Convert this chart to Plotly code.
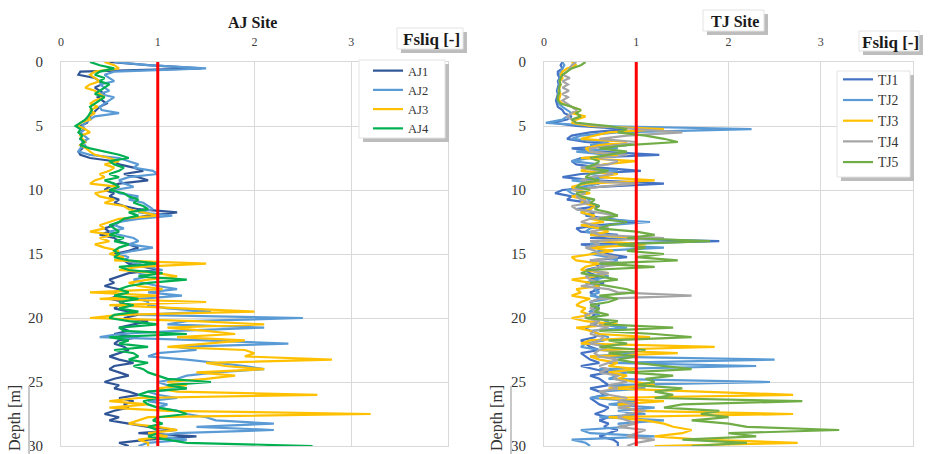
import numpy as np
import plotly.graph_objects as go

# depth sampling (m)
depth = list(np.round(np.arange(0, 30.001, 0.25), 2))

AJ1 = [0.5, 0.9, 1.45, 0.2, 0.18, 0.35, 0.4, 0.42, 0.35, 0.4, 0.45, 0.38, 0.42, 0.47, 0.4, 0.36,
       0.33, 0.3, 0.28, 0.27, 0.2, 0.24, 0.2, 0.22, 0.2, 0.25, 0.2, 0.22, 0.18, 0.2, 0.3, 0.55,
       0.6, 0.75, 0.85, 0.65, 0.8, 0.9, 0.6, 0.5, 0.45, 0.55, 0.5, 0.6, 0.55, 0.65, 0.8, 1.2,
       0.9, 0.7, 0.6, 0.55, 0.45, 0.5, 0.4, 0.55, 0.6, 0.7, 0.8, 0.7, 0.55, 0.6, 0.65, 0.7,
       0.85, 1.0, 0.7, 0.6, 0.5, 0.55, 0.45, 0.6, 0.55, 0.6, 0.5, 0.65, 0.6, 0.55, 0.7, 0.8,
       0.65, 0.9, 0.75, 0.6, 0.7, 0.55, 0.8, 0.6, 0.55, 0.65, 0.7, 0.6, 0.5, 0.6, 0.75, 0.55,
       0.5, 0.6, 0.7, 0.55, 0.45, 0.6, 0.55, 0.7, 0.8, 0.6, 0.75, 0.65, 0.7, 0.55, 0.45, 0.6,
       0.5, 0.7, 0.9, 1.2, 0.8, 1.4, 0.9, 0.6, 0.7]
AJ2 = [0.55, 0.9, 1.5, 0.55, 0.45, 0.5, 0.55, 0.4, 0.45, 0.5, 0.4, 0.55, 0.5, 0.45, 0.4, 0.42,
       0.6, 0.35, 0.3, 0.25, 0.22, 0.25, 0.2, 0.24, 0.28, 0.22, 0.25, 0.2, 0.18, 0.3, 0.6, 0.7,
       0.8, 0.75, 0.95, 1.0, 0.7, 0.6, 0.65, 0.75, 0.55, 0.6, 0.8, 0.7, 0.85, 0.9, 0.95, 0.8,
       1.15, 0.8, 0.6, 0.55, 0.65, 0.5, 0.6, 0.75, 0.8, 0.7, 0.95, 0.75, 0.6, 0.7, 0.65, 0.8,
       0.9, 1.05, 0.8, 0.9, 0.75, 0.85, 1.0, 1.2, 0.9, 1.25, 0.8, 0.9, 0.9, 1.1, 1.55, 0.8,
       2.5, 1.3, 1.1, 2.1, 1.2, 0.6, 0.4, 1.5, 2.35, 1.2, 1.4, 1.0, 0.9, 1.3, 1.6, 1.9,
       2.1, 1.6, 1.3, 1.2, 1.0, 1.1, 1.3, 0.9, 1.0, 1.2, 0.9, 1.1, 1.0, 1.2, 1.3, 1.5,
       1.6, 2.2, 1.4, 2.2, 1.2, 1.0, 1.3, 0.9, 0.8]
AJ3 = [0.45, 0.55, 0.6, 0.35, 0.3, 0.35, 0.4, 0.3, 0.25, 0.35, 0.4, 0.45, 0.35, 0.3, 0.38, 0.3,
       0.35, 0.28, 0.3, 0.2, 0.18, 0.25, 0.3, 0.2, 0.22, 0.25, 0.2, 0.26, 0.3, 0.35, 0.5, 0.6,
       0.45, 0.55, 0.5, 0.4, 0.45, 0.35, 0.3, 0.6, 0.5, 0.35, 0.4, 0.55, 0.45, 0.65, 0.7, 0.85,
       1.0, 0.6, 0.5, 0.4, 0.45, 0.3, 0.55, 0.4, 0.5, 0.35, 0.45, 0.6, 0.5, 0.65, 0.55, 1.5,
       0.8, 0.6, 1.0, 1.2, 0.9, 0.7, 0.8, 1.05, 0.3, 1.0, 0.4, 1.5, 0.5, 1.3, 2.0, 0.6,
       0.3, 1.4, 2.1, 1.1, 1.5, 1.8, 1.2, 1.9, 1.5, 1.1, 1.9, 2.0, 1.9, 2.8, 1.5, 1.7,
       2.1, 1.4, 1.8, 1.5, 1.1, 1.3, 1.0, 1.2, 2.65, 0.8, 0.5, 0.9, 0.5, 1.1, 3.2, 0.9,
       0.8, 0.7, 1.0, 1.2, 0.9, 1.1, 0.8, 0.9, 0.9]
AJ4 = [0.3, 0.4, 0.55, 0.4, 0.35, 0.45, 0.4, 0.5, 0.45, 0.4, 0.35, 0.45, 0.4, 0.35, 0.3, 0.32,
       0.3, 0.28, 0.25, 0.2, 0.15, 0.2, 0.18, 0.22, 0.2, 0.24, 0.2, 0.3, 0.45, 0.6, 0.7, 0.5,
       0.55, 0.65, 0.6, 0.5, 0.6, 0.45, 0.55, 0.6, 0.5, 0.65, 0.7, 0.8, 0.75, 0.85, 0.9, 0.7,
       0.8, 0.65, 0.6, 0.5, 0.55, 0.6, 0.5, 0.65, 0.55, 0.7, 0.6, 0.55, 0.6, 0.55, 0.7, 1.0,
       0.6, 0.7, 1.05, 0.8, 1.3, 0.9, 0.7, 0.6, 0.7, 0.55, 0.8, 0.6, 0.75, 0.6, 0.8, 0.55,
       0.5, 0.7, 1.0, 0.6, 0.65, 1.3, 0.5, 0.7, 0.6, 0.9, 0.55, 0.75, 0.8, 0.7, 0.9, 0.75,
       0.85, 0.9, 1.0, 1.1, 1.55, 1.1, 1.3, 0.9, 0.8, 1.0, 0.85, 0.9, 1.0, 1.2, 1.3, 1.0,
       0.95, 1.05, 0.9, 1.0, 1.0, 0.9, 1.1, 1.3, 2.6]

TJ1 = [0.2, 0.18, 0.2, 0.15, 0.15, 0.17, 0.15, 0.16, 0.15, 0.14, 0.15, 0.14, 0.13, 0.14, 0.15, 0.2,
       0.22, 0.3, 0.25, 0.1, 0.35, 0.9, 0.5, 0.3, 0.25, 0.45, 0.9, 0.3, 0.6, 1.25, 0.4, 0.3,
       0.35, 0.6, 1.05, 0.4, 0.2, 0.55, 1.3, 0.6, 0.2, 0.12, 0.3, 0.25, 0.5, 0.6, 0.35, 0.55,
       0.45, 0.7, 1.0, 0.6, 0.35, 0.4, 0.8, 0.5, 1.9, 0.4, 0.6, 0.6, 0.7, 0.9, 0.5, 0.55,
       0.6, 0.45, 0.5, 0.6, 0.5, 0.65, 0.55, 0.6, 0.5, 0.55, 0.6, 0.5, 0.6, 0.55, 0.5, 0.55,
       0.5, 0.6, 0.55, 0.45, 0.5, 0.6, 0.55, 0.4, 0.45, 0.5, 0.6, 0.4, 0.45, 0.5, 0.6, 0.4,
       0.55, 0.7, 0.5, 0.6, 0.65, 0.7, 0.5, 0.6, 0.65, 0.5, 0.55, 0.6, 0.7, 0.65, 0.55, 0.7,
       0.6, 0.7, 0.65, 0.8, 0.7, 0.6, 0.75, 0.8, 0.8]
TJ2 = [0.2, 0.22, 0.2, 0.18, 0.17, 0.18, 0.16, 0.17, 0.16, 0.15, 0.16, 0.15, 0.15, 0.16, 0.2, 0.25,
       0.3, 0.25, 0.2, 0.02, 0.6, 2.25, 0.8, 0.4, 0.3, 0.7, 0.5, 0.8, 0.35, 0.7, 0.5, 0.3,
       0.6, 0.4, 0.8, 0.5, 0.7, 0.3, 0.6, 0.4, 0.25, 0.3, 0.4, 0.5, 0.45, 0.55, 0.5, 0.4,
       0.5, 0.55, 1.15, 0.7, 0.5, 0.45, 0.7, 1.0, 0.6, 0.5, 1.3, 0.6, 0.5, 0.7, 0.8, 0.6,
       0.65, 0.5, 0.6, 0.7, 0.55, 0.45, 0.6, 0.55, 0.6, 0.5, 0.7, 0.5, 0.55, 0.6, 0.5, 0.6,
       0.55, 0.7, 0.6, 0.9, 0.5, 0.6, 0.7, 0.65, 0.45, 0.4, 0.6, 1.0, 0.5, 2.5, 0.7, 2.3,
       0.6, 0.9, 0.8, 0.7, 2.45, 0.7, 1.1, 0.6, 0.7, 0.5, 1.0, 0.7, 1.2, 0.8, 1.1, 0.6,
       1.3, 0.8, 0.9, 0.4, 0.5, 1.2, 0.3, 0.45, 0.5]
TJ3 = [0.3, 0.35, 0.25, 0.2, 0.18, 0.2, 0.17, 0.18, 0.17, 0.16, 0.18, 0.17, 0.16, 0.2, 0.3, 0.4,
       0.3, 0.45, 0.35, 0.3, 0.5, 1.3, 0.7, 0.55, 0.4, 0.9, 0.6, 0.45, 0.5, 0.8, 0.4, 1.0,
       0.65, 0.5, 0.4, 0.8, 0.6, 1.2, 0.45, 0.3, 0.35, 0.5, 0.3, 0.45, 0.4, 0.55, 0.5, 0.4,
       0.55, 0.5, 0.65, 0.4, 0.6, 0.7, 0.5, 1.0, 0.6, 1.1, 0.5, 0.75, 0.5, 0.3, 0.35, 0.6,
       0.45, 0.4, 0.7, 0.55, 0.3, 0.5, 0.6, 0.35, 0.4, 0.3, 0.5, 0.4, 0.35, 0.45, 0.4, 0.5,
       0.3, 0.45, 0.8, 0.35, 0.5, 0.6, 1.15, 0.5, 0.4, 1.85, 0.6, 1.45, 0.5, 0.6, 0.8, 0.7,
       1.0, 0.7, 0.9, 0.8, 1.0, 1.2, 0.7, 1.6, 2.7, 0.6, 1.3, 0.8, 0.9, 1.0, 2.7, 0.7,
       1.1, 1.3, 1.4, 1.6, 1.5, 1.2, 1.7, 2.75, 1.2]
TJ4 = [0.35, 0.3, 0.28, 0.25, 0.2, 0.28, 0.2, 0.26, 0.2, 0.27, 0.2, 0.26, 0.2, 0.25, 0.3, 0.35,
       0.3, 0.25, 0.3, 0.35, 0.6, 1.0, 1.5, 0.9, 0.6, 1.0, 0.8, 0.5, 0.5, 0.9, 0.6, 0.8,
       0.7, 0.4, 0.6, 0.75, 0.5, 0.4, 1.0, 0.6, 0.3, 0.45, 0.35, 0.4, 0.5, 0.3, 0.35, 0.6,
       0.8, 0.5, 0.4, 0.55, 0.7, 0.5, 0.6, 1.3, 0.5, 0.6, 0.45, 0.55, 0.6, 0.8, 0.5, 0.9,
       0.6, 0.5, 0.7, 0.45, 0.5, 0.6, 0.4, 0.7, 0.8, 1.6, 0.6, 0.5, 0.55, 0.5, 0.6, 0.45,
       0.45, 0.6, 0.5, 0.7, 0.55, 0.5, 0.65, 0.6, 0.5, 0.7, 0.6, 0.55, 0.6, 0.8, 0.7, 0.6,
       0.7, 0.6, 0.8, 0.75, 0.9, 0.7, 0.8, 0.6, 0.7, 0.9, 0.8, 1.0, 0.8, 1.1, 0.9, 0.8,
       0.9, 1.0, 0.8, 1.1, 1.0, 0.9, 1.2, 1.0, 0.9]
TJ5 = [0.45, 0.4, 0.3, 0.25, 0.2, 0.18, 0.17, 0.18, 0.16, 0.17, 0.16, 0.15, 0.15, 0.18, 0.3, 0.4,
       0.35, 0.4, 0.3, 0.35, 0.7, 0.9, 0.8, 1.1, 1.3, 1.45, 0.9, 0.6, 0.9, 0.7, 0.5, 0.6,
       0.55, 0.45, 0.7, 0.5, 0.45, 0.6, 0.4, 0.35, 0.5, 0.35, 0.4, 0.55, 0.5, 0.6, 0.55, 0.7,
       0.8, 0.6, 0.9, 0.7, 0.6, 1.0, 1.2, 0.9, 1.8, 0.8, 1.1, 0.9, 1.3, 1.0, 1.45, 0.6,
       1.2, 0.5, 0.4, 0.6, 0.8, 0.5, 0.7, 0.9, 1.0, 0.6, 0.8, 0.7, 0.5, 0.6, 0.55, 0.7,
       0.45, 0.8, 0.65, 1.4, 0.6, 1.2, 1.6, 0.7, 0.9, 0.6, 1.1, 0.7, 1.0, 0.8, 1.0, 1.3,
       1.6, 0.9, 1.4, 1.1, 1.2, 1.0, 1.5, 1.2, 1.4, 1.2, 2.8, 1.5, 1.3, 1.9, 1.7, 2.0,
       1.6, 2.0, 2.2, 3.2, 2.0, 2.3, 1.5, 2.2, 1.6]

AJ_names = ["AJ1", "AJ2", "AJ3", "AJ4"]
AJ_colors = ["#2F5597", "#5B9BD5", "#FFC000", "#00B050"]
TJ_names = ["TJ1", "TJ2", "TJ3", "TJ4", "TJ5"]
TJ_colors = ["#4472C4", "#5B9BD5", "#FFC000", "#A5A5A5", "#70AD47"]
x_ticks = [0, 1, 2, 3]
y_ticks = [0, 5, 10, 15, 20, 25, 30]
FS_LIMIT = 1

SERIF = "Liberation Serif"
W, H = 929, 454


def px(x):
    return x / W


def py(y):
    return 1 - y / H


fig = go.Figure()
for name, col, vals in zip(AJ_names, AJ_colors, [AJ1, AJ2, AJ3, AJ4]):
    fig.add_trace(go.Scatter(x=vals, y=depth, mode="lines", name=name,
                             line=dict(color=col, width=2.2), xaxis="x", yaxis="y",
                             legend="legend"))
fig.add_trace(go.Scatter(x=[FS_LIMIT, FS_LIMIT], y=[0, 30], mode="lines",
                         line=dict(color="#FF0000", width=3), showlegend=False,
                         xaxis="x", yaxis="y"))
for name, col, vals in zip(TJ_names, TJ_colors, [TJ1, TJ2, TJ3, TJ4, TJ5]):
    fig.add_trace(go.Scatter(x=vals, y=depth, mode="lines", name=name,
                             line=dict(color=col, width=2.2), xaxis="x2", yaxis="y2",
                             legend="legend2"))
fig.add_trace(go.Scatter(x=[FS_LIMIT, FS_LIMIT], y=[0, 30], mode="lines",
                         line=dict(color="#FF0000", width=3), showlegend=False,
                         xaxis="x2", yaxis="y2"))

xcommon = dict(range=[0, 4], side="top", tickvals=x_ticks, showgrid=True,
               gridcolor="#D9D9D9", gridwidth=1, showline=True, linecolor="#D9D9D9",
               mirror=True, zeroline=False, ticks="", ticklabeloverflow="allow",
               tickfont=dict(family=SERIF, size=12, color="#404040"), ticklabelstandoff=10)
ycommon = dict(range=[30, 0], tickvals=y_ticks, showgrid=True, gridcolor="#D9D9D9",
               gridwidth=1, showline=True, linecolor="#D9D9D9", mirror=True,
               zeroline=False, ticks="", ticklabeloverflow="allow",
               tickfont=dict(family=SERIF, size=15, color="#333333"), ticklabelstandoff=14)

ydom = [py(446), py(62)]
fig.update_layout(
    width=W, height=H, margin=dict(l=0, r=0, t=0, b=0, autoexpand=False),
    plot_bgcolor="white", paper_bgcolor="white",
    xaxis=dict(domain=[px(61), px(448)], anchor="y", **xcommon),
    yaxis=dict(domain=ydom, anchor="x", **ycommon),
    xaxis2=dict(domain=[px(544), px(913)], anchor="y2", **xcommon),
    yaxis2=dict(domain=ydom, anchor="x2", **ycommon),
    legend=dict(x=px(368), y=py(56), xanchor="left", yanchor="top",
                bgcolor="rgba(0,0,0,0)", borderwidth=0,
                font=dict(family=SERIF, size=12.5, color="#333333"),
                tracegroupgap=0),
    legend2=dict(x=px(838), y=py(64), xanchor="left", yanchor="top",
                 bgcolor="rgba(0,0,0,0)", borderwidth=0,
                 font=dict(family=SERIF, size=13.6, color="#333333"),
                 tracegroupgap=0),
    showlegend=True,
)

title_font = dict(family=SERIF, size=16, color="#1a1a1a")
ann = []
ann.append(dict(text="<b>AJ Site</b>", x=px(252), y=py(23), xref="paper", yref="paper",
                xanchor="center", yanchor="middle", showarrow=False, font=title_font))
ann.append(dict(text="<b>TJ Site</b>", x=px(735), y=py(21), xref="paper", yref="paper",
                xanchor="center", yanchor="middle", showarrow=False, font=title_font))
ann.append(dict(text="<b>Fsliq [-]</b>", x=px(431), y=py(39), xref="paper", yref="paper",
                xanchor="center", yanchor="middle", showarrow=False,
                font=dict(family=SERIF, size=17, color="#1a1a1a")))
ann.append(dict(text="<b>Fsliq [-]</b>", x=px(890), y=py(42), xref="paper", yref="paper",
                xanchor="center", yanchor="middle", showarrow=False,
                font=dict(family=SERIF, size=17, color="#1a1a1a")))
for xx in (15, 497):
    ann.append(dict(text="Depth [m]", x=px(xx), y=py(418), xref="paper", yref="paper",
                    xanchor="center", yanchor="middle", showarrow=False, textangle=-90,
                    font=dict(family=SERIF, size=16, color="#333333")))
fig.update_layout(annotations=ann)

# boxes with drop shadows (shadow rect first, then white box)
boxes = [(397, 28, 463, 49), (859, 31, 919, 51), (703, 10, 764, 31),
         (359, 60, 445, 138), (837, 71, 910, 177)]
shapes = []
for (x0, y0, x1, y1) in boxes:
    shapes.append(dict(type="rect", xref="paper", yref="paper", x0=px(x0 + 4), x1=px(x1 + 4),
                       y0=py(y1 + 4), y1=py(y0 + 4), fillcolor="#BDBDBD",
                       line=dict(width=0), layer="above"))
    shapes.append(dict(type="rect", xref="paper", yref="paper", x0=px(x0), x1=px(x1),
                       y0=py(y1), y1=py(y0), fillcolor="white",
                       line=dict(width=1, color="#E3E3E3"), layer="above"))
for xx in (29, 511):
    shapes.append(dict(type="line", xref="paper", yref="paper", x0=px(xx), x1=px(xx),
                       y0=py(454), y1=py(386), line=dict(width=2, color="#C8C8C8"),
                       layer="above"))
fig.update_layout(shapes=shapes)

fig.write_html("out.html")
